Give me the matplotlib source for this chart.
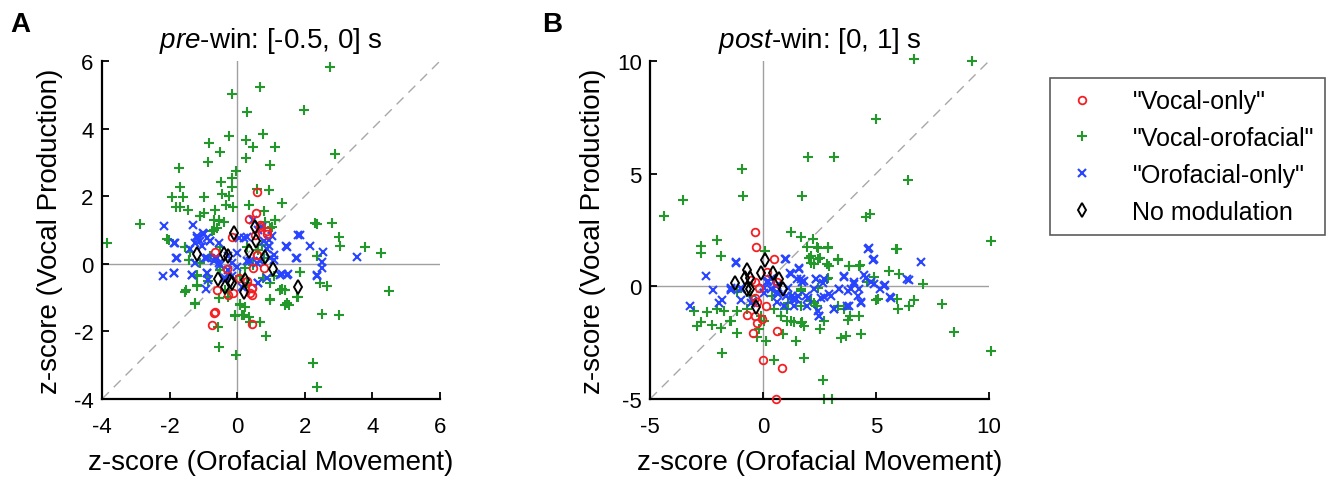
import matplotlib
matplotlib.use("Agg")
import matplotlib.pyplot as plt
from matplotlib.lines import Line2D

plt.rcParams['font.family'] = ['Liberation Sans', 'DejaVu Sans']
plt.rcParams['axes.unicode_minus'] = False
plt.rcParams['mathtext.fontset'] = 'custom'
plt.rcParams['mathtext.it'] = 'Liberation Sans:italic'
plt.rcParams['mathtext.rm'] = 'Liberation Sans'

# ---------------- Panel A data (pre-win) ----------------
a_green_x = [2.75,0.68,-0.15,1.98,0.29,0.75,-0.23,-0.83,0.26,0.48,1.11,-0.52,2.89,0.26,-0.87,0.98,-1.73,-0.04,-0.15,-0.49,
             -0.15,-1.69,0.60,0.94,-0.46,-0.23,-1.93,-1.61,-0.97,1.33,0.36,-0.33,-0.11,-1.82,-1.69,-1.47,-0.65,0.78,-0.99,-1.09,
             -0.70,-0.55,-0.40,1.11,-2.87,2.36,2.80,1.02,-0.70,-0.60,-2.08,-2.03,3.00,3.05,3.79,4.26,-3.86,-1.54,-1.41,-1.44,
             2.36,0.78,1.86,2.45,2.65,4.48,-1.51,-1.19,-1.19,-0.85,-0.50,1.32,1.42,0.98,0.76,-1.24,-0.55,-0.26,0.98,1.42,
             1.52,1.79,0.09,0.24,2.50,3.02,-0.06,0.14,0.36,0.68,-0.58,0.85,-0.53,-0.03,2.23,2.36,0.29,0.09,1.08,-1.09,
             -0.80,-0.50,-1.54,-1.44,-1.19,-1.19,-1.24,-0.55,0.09,0.19,-0.06,0.98,1.27,1.42,1.47,1.76,1.86,2.36,2.31,1.12,
             0.83,0.98,0.73,0.63,0.29,0.24,-0.50,-0.85,-1.54,0.48,-0.36,0.38,0.68,-0.75,-0.55,-1.09]
a_green_y = [5.82,5.22,5.03,4.54,4.50,3.84,3.79,3.58,3.66,3.45,3.45,3.32,3.26,3.13,3.02,2.93,2.83,2.76,2.53,2.42,
             2.27,2.27,2.21,2.17,2.07,2.02,1.97,1.97,1.99,1.81,1.75,1.73,1.67,1.68,1.68,1.60,1.60,1.55,1.50,1.40,
             1.30,1.28,1.23,1.30,1.18,1.18,1.20,1.10,1.01,1.06,0.73,0.69,0.78,0.53,0.51,0.32,0.63,0.51,0.36,0.10,
             0.22,0.17,-0.23,-0.57,-0.67,-0.80,-0.77,-0.67,-0.37,-0.37,-0.18,-0.74,-0.77,-0.57,-0.42,-1.18,-1.02,-0.97,-1.05,-1.21,
             -1.21,-0.99,-1.18,-1.28,-1.48,-1.51,-1.54,-1.51,-1.56,-1.71,-1.88,-2.13,-2.45,-2.69,-2.94,-3.65,-0.57,-0.37,-0.37,0.02,
             0.22,0.51,0.51,0.12,-0.33,-0.62,-1.16,-1.02,-1.21,-1.51,-1.51,-1.07,-0.77,-0.77,-1.16,-0.97,-0.23,0.22,1.20,1.30,
             1.25,1.06,0.56,0.41,0.51,-0.13,-0.18,-0.52,-0.82,-0.03,-0.77,-1.71,-1.71,0.96,1.30,1.40]

a_red_x = [0.58,0.55,0.36,0.68,0.88,-0.15,0.53,0.58,-0.65,-0.31,0.04,0.29,0.78,0.46,-0.60,-0.26,-0.11,0.45,0.45,-0.67,
           -0.75,0.45,0.58,0.43,0.38,-0.70,0.88,0.68]
a_red_y = [2.11,1.50,1.33,1.10,0.88,0.78,0.86,0.25,0.36,-0.15,-0.42,-0.52,-0.13,-0.13,-0.77,-0.92,-0.87,-0.72,-0.92,-1.44,
           -1.80,-1.78,0.27,-0.72,-0.87,-1.46,0.96,1.15]

a_blue_x = [-2.18,-1.31,0.48,0.73,-1.19,-0.99,-0.90,-0.80,-1.24,-1.09,-1.88,-0.55,0.19,0.29,0.95,1.02,1.86,2.14,1.45,0.93,
            0.88,2.55,3.54,1.74,-1.80,-1.39,-1.24,-0.90,-0.65,-0.55,-0.01,-0.01,0.29,0.58,1.08,1.08,2.50,2.50,-2.21,-1.86,
            -1.33,-0.89,-0.85,-0.40,-0.16,0.88,1.32,1.49,2.36,-0.92,0.14,0.63,
            -1.00,-1.19,-0.70,-0.60,-0.50,-1.83,-1.79,-0.95,-0.26,-0.16,0.38,0.68,0.98,1.47,1.76,2.36,1.27,1.47,
            0.63,-0.36,-0.90,-1.34,-1.88,-0.26,0.04,0.63,0.78,1.81,-1.05,-0.80]
a_blue_y = [1.13,1.16,1.30,1.10,0.81,0.88,0.76,0.66,0.61,0.66,0.63,0.61,0.76,0.79,0.71,0.83,0.84,0.54,0.53,0.53,
            0.43,0.34,0.21,0.17,0.17,0.43,0.02,0.17,0.17,0.02,0.32,-0.08,0.07,0.02,0.12,0.25,0.05,-0.13,-0.36,-0.28,
            -0.33,-0.28,-0.47,-0.42,-0.37,-0.42,-0.30,-0.30,-0.37,-0.75,-0.69,-0.57,
            0.91,0.76,0.07,0.17,-0.03,0.61,0.17,0.17,0.22,0.02,0.07,0.07,0.17,0.51,0.17,-0.33,-0.33,-0.33,
            -0.57,-0.42,-0.28,-0.33,-0.28,-0.18,0.76,1.01,0.66,0.86,0.52,0.66]

a_black_x = [-0.08,0.53,0.55,-1.19,0.36,-0.38,-0.26,0.81,1.07,-0.57,-0.21,-0.16,-0.36,0.21,1.81,0.24]
a_black_y = [0.91,1.10,0.66,0.30,0.39,0.30,0.22,0.20,-0.15,-0.45,-0.52,-0.57,-0.70,-0.82,-0.69,-0.47]

# ---------------- Panel B data (post-win) ----------------
b_green_x = [6.68,9.23,5.01,1.99,3.14,-0.91,6.43,-3.54,-0.87,1.71,-4.38,4.54,4.72,1.25,1.67,2.21,-2.02,-2.76,-2.76,-1.87,
             0.09,1.96,2.40,2.89,5.94,10.07,2.11,2.52,2.85,3.33,3.81,4.29,2.26,5.58,6.02,4.91,7.09,4.99,5.94,6.68,
             6.46,5.99,7.94,8.45,10.07,-3.05,-2.47,-2.02,-1.73,-1.14,-2.76,-2.91,-2.24,-1.87,-1.46,-1.16,-1.83,-0.25,0.12,0.90,
             1.47,1.81,0.49,2.51,2.70,1.81,1.74,1.37,1.05,3.44,3.66,4.32,3.85,4.25,3.74,2.65,2.70,3.04,0.78,1.08,
             1.67,2.26,2.40,3.30,-0.10,-0.18,-1.14,-0.55,1.67,2.85,4.61,0.41,1.22,-0.69,3.58,
             2.05,2.42,2.12,2.94,3.30,3.82,4.26,2.87,2.42,2.12,2.35,1.68,1.09,0.80,1.24,1.68,0.50,0.06,-1.42,5.07,
             5.88,2.42,2.87]
b_green_y = [10.1,9.99,7.41,5.73,5.73,5.21,4.73,3.85,3.99,3.99,3.14,3.07,3.21,2.43,2.21,2.10,2.07,1.78,1.48,1.33,
             1.56,1.73,1.73,1.73,1.66,1.99,1.36,1.24,0.99,1.19,0.89,0.95,0.99,0.70,0.55,0.40,0.10,-0.59,-0.56,-0.59,
             -0.89,-1.01,-0.79,-2.01,-2.86,-1.08,-1.16,-1.01,-1.08,-1.08,-1.57,-1.75,-1.72,-1.87,-1.53,-2.07,-2.96,-2.27,-2.41,-2.12,
             -2.41,-3.16,-3.26,-1.90,-1.53,-1.75,-1.60,-1.57,-1.53,-2.31,-2.22,-2.12,-1.30,-1.30,-1.48,-4.16,-4.98,-4.98,-1.30,-1.01,
             -0.86,-0.74,-0.86,-0.86,-1.30,-1.90,-0.27,-0.41,-0.12,0.33,0.18,-0.41,-0.49,-1.01,-1.01,
             1.27,1.20,1.05,0.90,1.20,0.90,0.90,0.39,-0.06,-0.65,-0.87,-0.21,-0.73,-1.32,-1.54,-1.61,-1.02,-1.54,-1.54,-0.58,
             1.64,1.72,1.72]

b_red_x = [-0.37,-0.32,0.49,0.19,-0.52,-0.37,-0.18,0.63,-0.37,-0.28,0.12,-0.69,-0.37,-0.03,-0.28,-0.43,0.63,0.01,0.86,0.58]
b_red_y = [2.41,1.73,1.23,0.62,0.30,0.21,-0.09,0.18,-0.52,-0.71,-0.86,-1.27,-1.30,-1.45,-1.63,-2.09,-1.97,-3.26,-3.64,-4.98]

b_blue_x = [-3.23,-2.54,-2.20,-1.80,-1.95,-1.43,-1.21,-0.99,-0.52,0.04,0.19,0.34,0.63,0.97,1.19,1.59,1.52,1.74,1.89,1.96,
            2.26,2.33,2.70,2.70,3.00,2.48,3.14,3.36,3.58,3.88,3.73,4.03,4.25,4.32,4.47,4.69,4.88,4.79,5.16,5.41,
            5.63,6.36,6.46,7.01,1.00,1.30,1.37,0.93,1.45,0.63,0.34,-0.99,-1.43,
            -1.19,1.02,1.61,1.24,1.68,1.83,2.35,2.65,3.60,4.04,4.56,4.93,5.37,5.66,3.38,3.75,2.94,2.57,1.98,1.53,
            1.31,1.09,0.58,0.21,0.06,-0.46,-0.97,-1.42,2.42,2.49,3.16,3.82,4.19,4.34,4.63,4.93,1.46,0.65]
b_blue_y = [-0.86,0.44,-0.15,-0.59,-0.74,-0.09,1.07,-0.59,-0.74,-0.09,0.18,0.33,-0.27,1.21,0.59,0.80,0.33,0.18,-0.41,-0.86,
            -0.12,0.33,0.33,-0.49,-0.41,-1.30,-1.01,-0.12,0.44,-0.12,-0.86,0.18,-0.12,-0.71,0.50,1.69,1.19,0.18,-0.12,0.06,
            -0.49,0.33,0.30,1.07,-0.41,-0.41,-0.86,-0.86,-0.56,-0.71,-0.12,-0.12,-0.15,
            1.05,1.20,0.76,0.53,0.31,0.24,0.31,0.16,0.43,0.09,0.39,0.09,0.01,-0.50,-0.13,-0.21,-0.36,-0.50,-0.50,-0.43,
            -0.58,-0.06,0.01,0.24,-0.28,-0.65,-0.06,-0.13,-1.10,-1.32,-1.02,-0.87,-0.43,-0.73,1.64,1.20,-0.58,-0.36]

b_black_x = [0.07,-0.69,-0.81,-1.25,-0.10,0.46,0.71,0.90,-0.72,-0.58,-0.31,-0.58]
b_black_y = [1.19,0.74,0.36,0.13,0.58,0.59,0.33,-0.12,-0.12,-0.12,-0.93,0.36]

# ---------------- Text ----------------
labels = ['"Vocal-only"', '"Vocal-orofacial"', '"Orofacial-only"', 'No modulation']
xlabel = 'z-score (Orofacial Movement)'
ylabel = 'z-score (Vocal Production)'

RED, GREEN, BLUE, BLACK = '#f51e23', '#22992a', '#2844ff', 'black'

fig = plt.figure(figsize=(13.32, 4.81), dpi=100)
axA = fig.add_axes([102/1332, 81/481, 338/1332, 338/481])
axB = fig.add_axes([650/1332, 81/481, 339/1332, 338/481])

G_KW = dict(ls='none', marker='+', ms=7.5, mew=1.5, color=GREEN)
B_KW = dict(ls='none', marker='x', ms=5.8, mew=1.5, color=BLUE)
R_KW = dict(ls='none', marker='o', ms=5.5, mew=1.3, mfc='none', mec=RED)
K_KW = dict(ls='none', marker='d', ms=7.5, mew=1.4, mfc='none', mec=BLACK)


def draw(ax, lim, ticks, data, title_it, title_rest):
    ax.plot(lim, [0, 0], color='#a0a0a0', lw=1.0, zorder=1)
    ax.plot([0, 0], lim, color='#a0a0a0', lw=1.0, zorder=1)
    ax.plot(lim, lim, color='#a8a8a8', lw=1.0, ls=(0, (7, 5)), zorder=1)
    (gx, gy), (bx, by), (rx, ry), (kx, ky) = data
    ax.plot(gx, gy, zorder=2, clip_on=False, **G_KW)
    ax.plot(bx, by, zorder=3, clip_on=False, **B_KW)
    ax.plot(rx, ry, zorder=4, clip_on=False, **R_KW)
    ax.plot(kx, ky, zorder=5, clip_on=False, **K_KW)
    ax.set_xlim(lim)
    ax.set_ylim(lim)
    ax.set_xticks(ticks)
    ax.set_yticks(ticks)
    for s in ['top', 'right']:
        ax.spines[s].set_visible(False)
    for s in ['left', 'bottom']:
        ax.spines[s].set_linewidth(1.6)
    ax.tick_params(direction='in', length=5, width=1.3, labelsize=16)
    ax.tick_params(axis='x', pad=12)
    ax.tick_params(axis='y', pad=6)
    ax.set_xlabel(xlabel, fontsize=20, labelpad=9)
    ax.set_ylabel(ylabel, fontsize=20, labelpad=8)
    ax.set_title(r'$\mathit{' + title_it + '}$' + title_rest, fontsize=20, pad=10)


draw(axA, [-4, 6], [-4, -2, 0, 2, 4, 6],
     [(a_green_x, a_green_y), (a_blue_x, a_blue_y), (a_red_x, a_red_y), (a_black_x, a_black_y)],
     'pre', '-win: [-0.5, 0] s')
draw(axB, [-5, 10], [-5, 0, 5, 10],
     [(b_green_x, b_green_y), (b_blue_x, b_blue_y), (b_red_x, b_red_y), (b_black_x, b_black_y)],
     'post', '-win: [0, 1] s')

fig.text(10/1332, 1 - 25/481, 'A', fontsize=20, fontweight='bold', va='center')
fig.text(542/1332, 1 - 25/481, 'B', fontsize=20, fontweight='bold', va='center')

handles = [Line2D([], [], **R_KW), Line2D([], [], **G_KW), Line2D([], [], **B_KW), Line2D([], [], **K_KW)]
leg = fig.legend(handles, labels, loc='upper left', bbox_to_anchor=(1050/1332, 1 - 79/481),
                 fontsize=18, frameon=True, fancybox=False, edgecolor='#333333',
                 borderpad=0.45, labelspacing=0.51, handletextpad=1.2, handlelength=1.65,
                 borderaxespad=0)
leg.get_frame().set_linewidth(1.2)

fig.savefig('out.png', dpi=100)
